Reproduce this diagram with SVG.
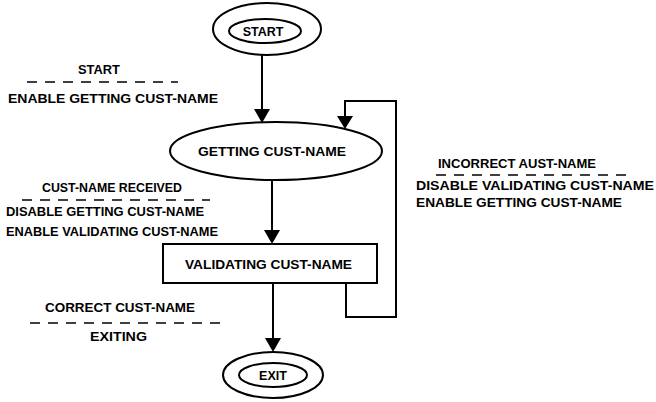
<svg xmlns="http://www.w3.org/2000/svg" width="656" height="402" viewBox="0 0 656 402">
<style>
text{font-family:"Liberation Sans",Arial,sans-serif;font-size:12.5px;font-weight:bold;fill:#000}
.c{text-anchor:middle}
.s{fill:none;stroke:#000;stroke-width:2}
.d{fill:none;stroke:#000;stroke-width:1.5;stroke-dasharray:10 8}
</style>
<rect width="656" height="402" fill="#fff"/>
<g id="connectors">
<path class="s" d="M262,55 V111"/>
<polygon points="254,109 270,109 262,123"/>
<path class="s" d="M272,180 V232"/>
<polygon points="264,230 280,230 272,244"/>
<path class="s" d="M273,283 V340"/>
<polygon points="265,338 281,338 273,352"/>
<path class="s" d="M346,283 V317 H396 V101 H345 V118"/>
<polygon points="337,116 353,116 345,129"/>
</g>
<g id="start"><ellipse class="s" cx="267" cy="29" rx="54" ry="26"/><ellipse class="s" cx="265" cy="31" rx="36" ry="12"/><text class="c" x="263" y="36" font-size="12.5">START</text></g>
<g id="getting"><ellipse class="s" cx="276" cy="151" rx="106" ry="29"/><text x="198" y="156" textLength="148" lengthAdjust="spacingAndGlyphs">GETTING CUST-NAME</text></g>
<g id="validating"><rect class="s" x="163" y="244" width="214" height="39"/><text x="185" y="269" textLength="167" lengthAdjust="spacingAndGlyphs">VALIDATING CUST-NAME</text></g>
<g id="exit"><ellipse class="s" cx="273" cy="375" rx="50" ry="23"/><ellipse class="s" cx="273" cy="375" rx="34" ry="12"/><text class="c" x="273" y="380" font-size="12.5">EXIT</text></g>
<g id="label-start">
<text x="78" y="74" textLength="42" lengthAdjust="spacingAndGlyphs">START</text>
<path class="d" d="M27,82 H178"/>
<text x="8" y="103" textLength="210" lengthAdjust="spacingAndGlyphs">ENABLE GETTING CUST-NAME</text>
</g>
<g id="label-received">
<text x="42" y="192" textLength="140" lengthAdjust="spacingAndGlyphs">CUST-NAME RECEIVED</text>
<path class="d" d="M22,200 H210"/>
<text x="6" y="216" textLength="198" lengthAdjust="spacingAndGlyphs">DISABLE GETTING CUST-NAME</text>
<text x="6" y="236" textLength="212" lengthAdjust="spacingAndGlyphs">ENABLE VALIDATING CUST-NAME</text>
</g>
<g id="label-correct">
<text x="45" y="312" textLength="150" lengthAdjust="spacingAndGlyphs">CORRECT CUST-NAME</text>
<path class="d" d="M30,323 H220"/>
<text x="90" y="341" textLength="57" lengthAdjust="spacingAndGlyphs">EXITING</text>
</g>
<g id="label-incorrect">
<text x="438" y="168" textLength="158" lengthAdjust="spacingAndGlyphs">INCORRECT AUST-NAME</text>
<path class="d" d="M436,175 H628"/>
<text x="416" y="190" textLength="238" lengthAdjust="spacingAndGlyphs">DISABLE VALIDATING CUST-NAME</text>
<text x="416" y="207" textLength="206" lengthAdjust="spacingAndGlyphs">ENABLE GETTING CUST-NAME</text>
</g>
</svg>
